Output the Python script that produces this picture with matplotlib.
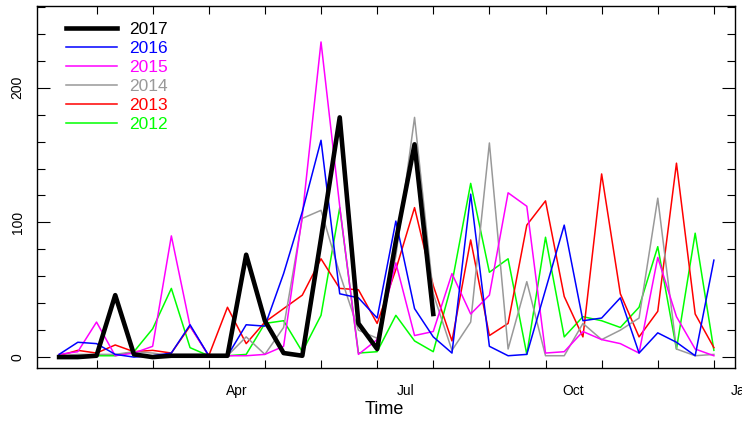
import numpy as np
import matplotlib
matplotlib.use("Agg")
import matplotlib.pyplot as plt
import matplotlib.transforms as mtransforms

# dekad values (36 per year)
y2017 = [0, 0, 1, 46, 2, 0, 1, 1, 1, 1, 76, 27, 3, 1, 88, 178, 25, 6, 86, 158, 32]
y2016 = [2, 11, 10, 2, 0, 1, 3, 24, 1, 1, 24, 23, 62, 108, 161, 47, 44, 29, 101, 36,
         15, 3, 121, 8, 1, 2, 50, 98, 27, 29, 44, 3, 18, 11, 1, 72]
y2015 = [2, 4, 26, 1, 3, 8, 90, 23, 1, 1, 1, 2, 8, 105, 234, 112, 2, 13, 70, 16,
         19, 62, 32, 46, 122, 112, 3, 4, 19, 13, 10, 3, 74, 30, 6, 1]
y2014 = [1, 2, 2, 2, 4, 3, 1, 1, 1, 1, 15, 2, 22, 103, 109, 62, 20, 14, 75, 178,
         47, 5, 26, 159, 6, 56, 1, 1, 25, 13, 20, 29, 118, 6, 1, 2]
y2013 = [1, 5, 3, 9, 4, 5, 3, 23, 1, 37, 10, 26, 36, 46, 73, 51, 50, 25, 65, 111,
         53, 12, 87, 16, 25, 98, 116, 45, 15, 136, 47, 15, 34, 144, 32, 7]
y2012 = [1, 1, 1, 1, 4, 21, 51, 7, 1, 1, 2, 25, 27, 4, 31, 111, 3, 4, 31, 12,
         4, 55, 129, 63, 73, 2, 89, 15, 30, 27, 22, 37, 82, 6, 92, 5]

years = ["2017", "2016", "2015", "2014", "2013", "2012"]
series = [y2017, y2016, y2015, y2014, y2013, y2012]
colors = ["black", "#0000FF", "#FF00FF", "#999999", "#FF0000", "#00FF00"]

month_labels = ["Apr", "Jul", "Oct", "Jan"]
month_pos = [9.5, 18.5, 27.5, 36.5]
month_ticks = np.arange(2, 36, 3)

plt.rcParams['font.family'] = ['Liberation Sans', 'DejaVu Sans']

fig = plt.figure(figsize=(7.42, 4.21), dpi=100)
ax = fig.add_axes([0.0499, 0.1259, 0.9407, 0.8598])

# others first, 2017 on top
handles = {}
for name, vals, col in list(zip(years, series, colors))[::-1]:
    lw = 3.3 if name == "2017" else 1.1
    h, = ax.plot(np.arange(len(vals)), vals, color=col, lw=lw, zorder=3 if name == "2017" else 2)
    handles[name] = h

ax.set_xlim(-1.18, 36.13)
ax.set_ylim(-8.1, 260.7)

ax.set_xticks(month_ticks)
ax.set_xticklabels([])
ax.tick_params(axis='x', which='major', direction='in', length=6, width=0.8, top=True)

ax.set_yticks([0, 100, 200])
ax.set_yticklabels(["0", "100", "200"], rotation=90, va='center', fontsize=10)
ax.set_yticks(np.arange(0, 261, 20), minor=True)
ax.tick_params(axis='y', which='major', direction='in', length=9.5, width=0.8, right=True, pad=9)
ax.tick_params(axis='y', which='minor', direction='in', length=6, width=0.8, right=True)

for sp in ax.spines.values():
    sp.set_linewidth(1.0)

trans = mtransforms.blended_transform_factory(ax.transData, ax.transAxes)
for lab, pos in zip(month_labels, month_pos):
    ax.text(pos, -0.063, lab, transform=trans, ha='center', va='center', fontsize=10, clip_on=False)

ax.text(0.497, -0.115, "Time", transform=ax.transAxes, ha='center', va='center', fontsize=13)

leg = ax.legend([handles[y] for y in years], years, loc='upper left', bbox_to_anchor=(0.042, 0.955),
                frameon=False, fontsize=12.5, handlelength=2.9, handletextpad=0.7,
                labelspacing=0.22, borderpad=0, borderaxespad=0, labelcolor='linecolor')

fig.savefig("out.png", dpi=100)
